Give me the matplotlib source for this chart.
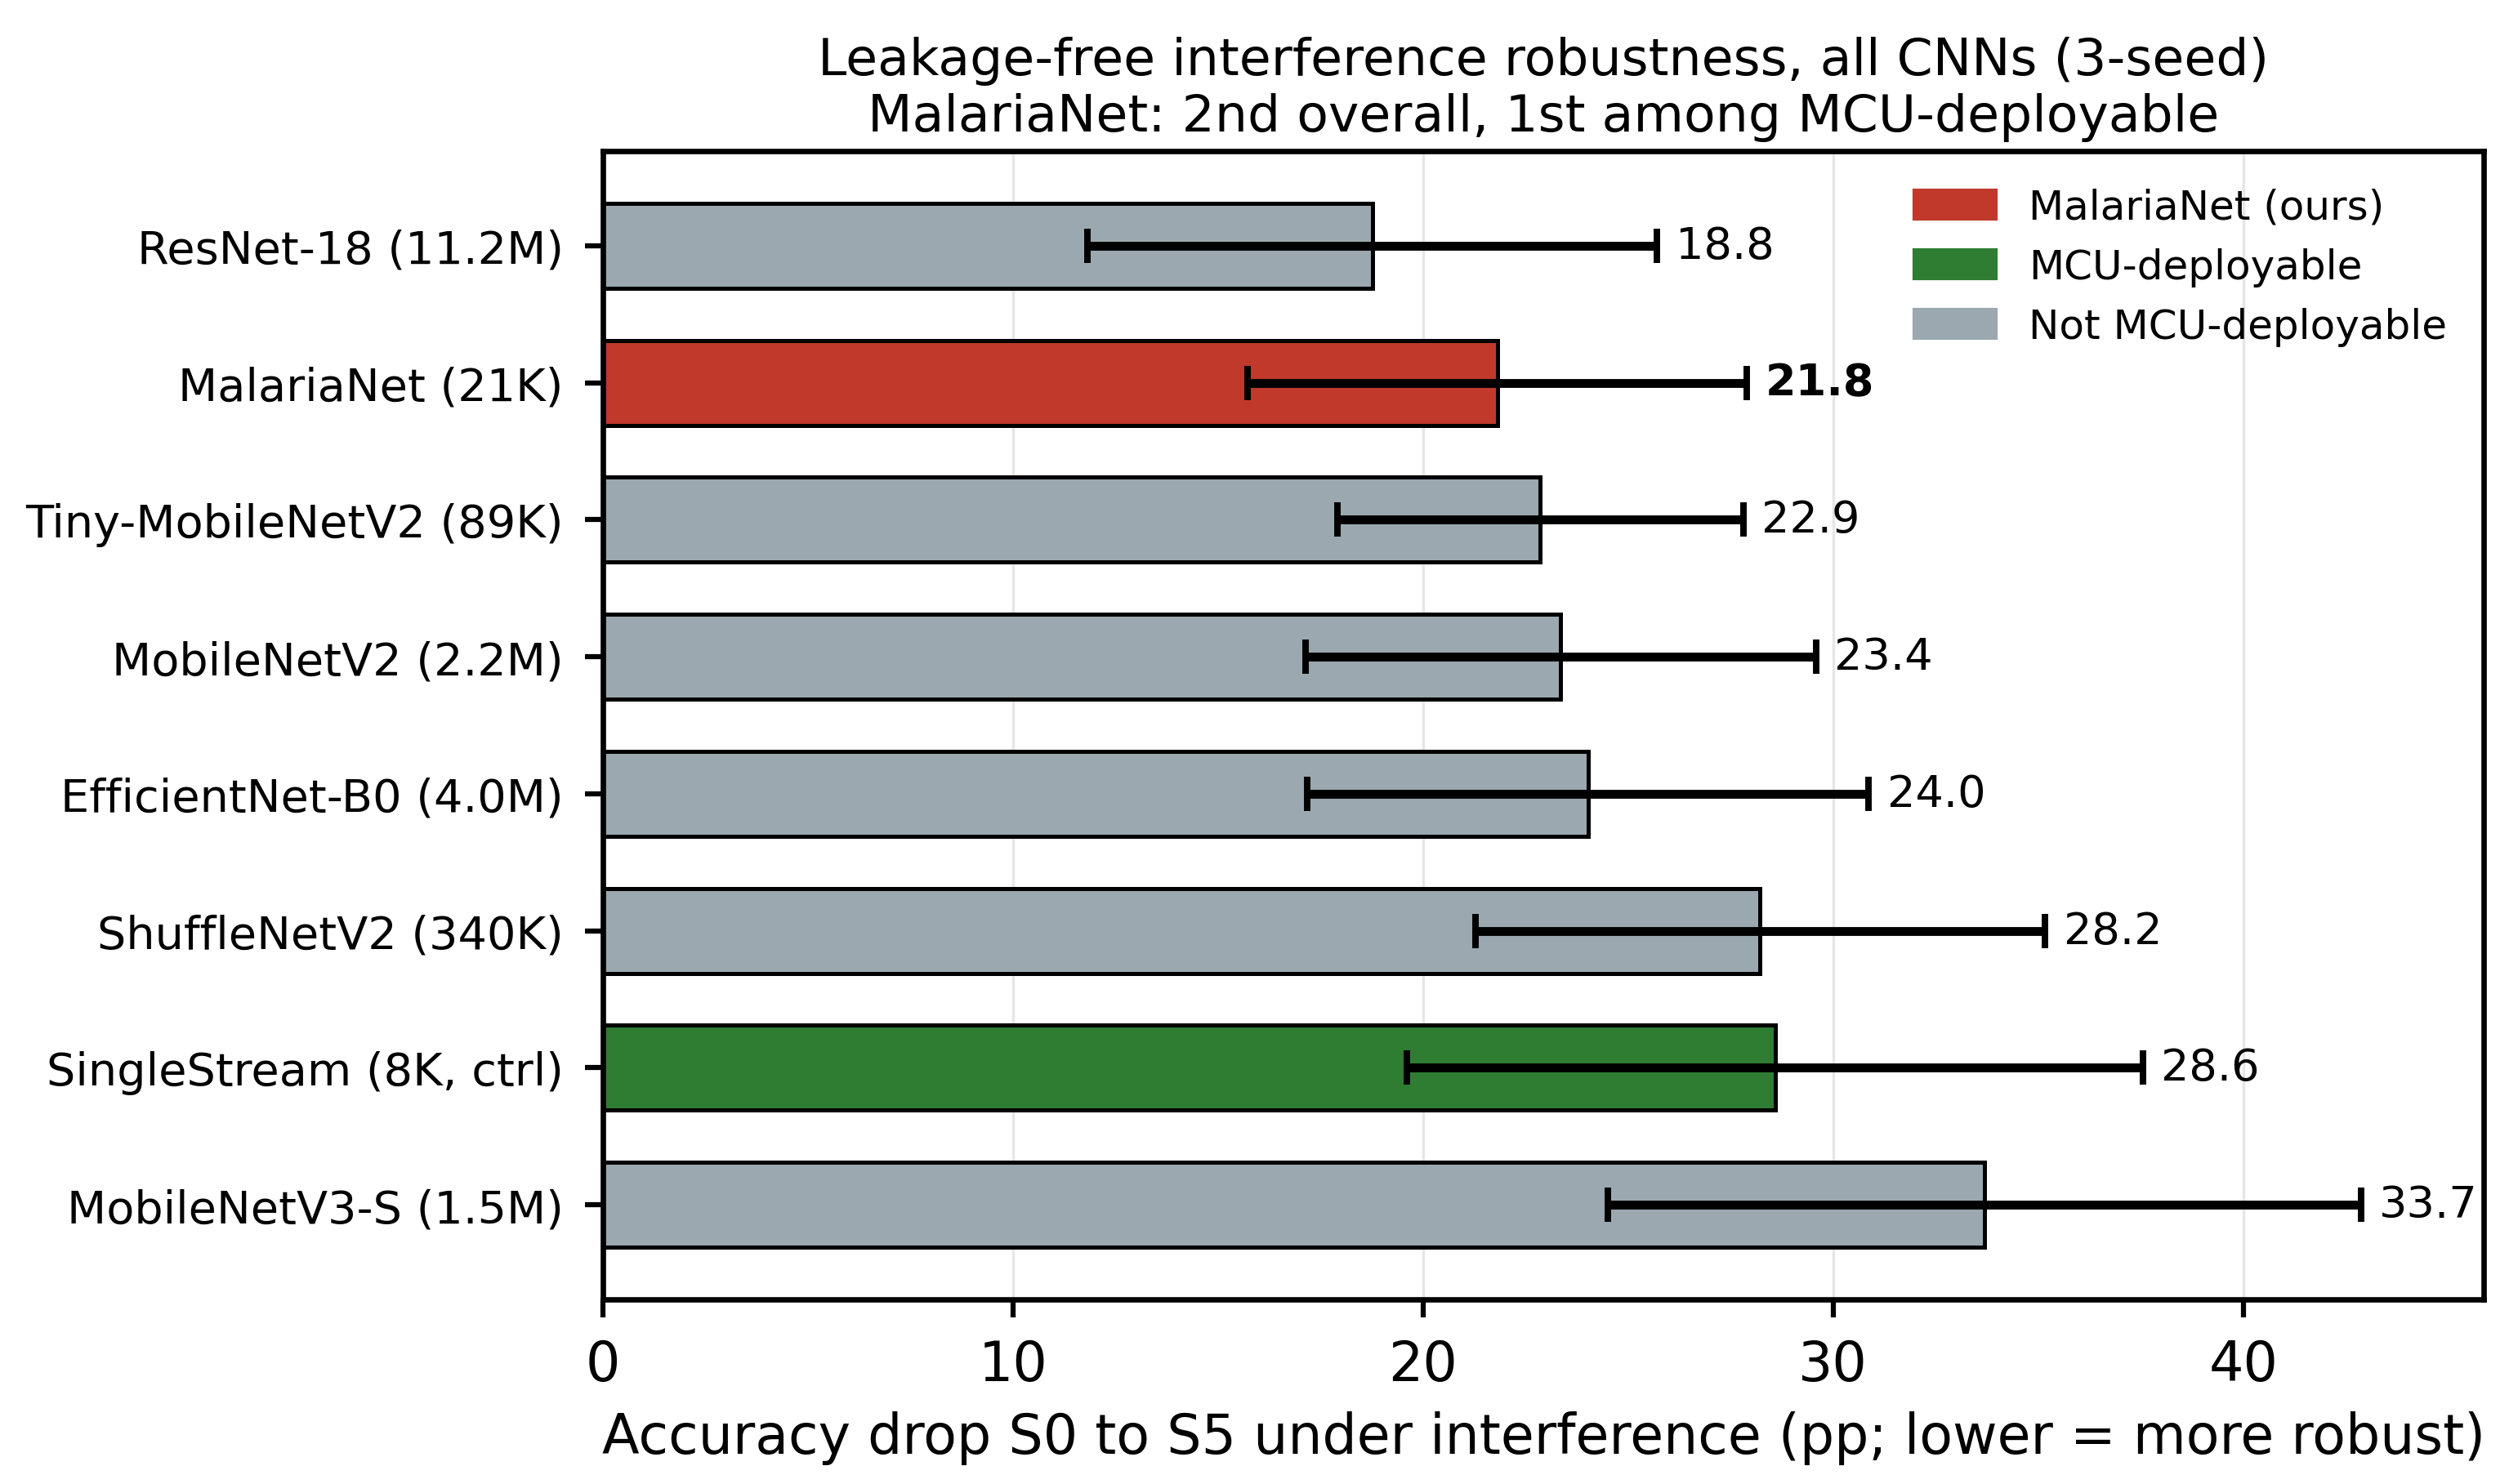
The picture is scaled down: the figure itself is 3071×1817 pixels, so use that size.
import matplotlib.pyplot as plt
import numpy as np

models = [
    "ResNet-18 (11.2M)",
    "MalariaNet (21K)",
    "Tiny-MobileNetV2 (89K)",
    "MobileNetV2 (2.2M)",
    "EfficientNet-B0 (4.0M)",
    "ShuffleNetV2 (340K)",
    "SingleStream (8K, ctrl)",
    "MobileNetV3-S (1.5M)",
]
drop_mean = [18.76, 21.81, 22.86, 23.36, 24.02, 28.22, 28.58, 33.69]
drop_std = [6.95, 6.09, 4.95, 6.22, 6.85, 6.95, 8.97, 9.18]
group = ["not", "ours", "not", "not", "not", "not", "mcu", "not"]

colors = {"ours": "#c0392b", "mcu": "#2e7d32", "not": "#9ba8b0"}
legend_names = {
    "ours": "MalariaNet (ours)",
    "mcu": "MCU-deployable",
    "not": "Not MCU-deployable",
}

fig, ax = plt.subplots(figsize=(10.237, 6.06), dpi=300)
fig.subplots_adjust(left=0.2403, right=0.990, top=0.8977, bottom=0.1243)

y = np.arange(len(models))
ax.barh(
    y,
    drop_mean,
    height=0.62,
    color=[colors[g] for g in group],
    edgecolor="black",
    linewidth=1.2,
    zorder=2,
)
ax.errorbar(
    drop_mean,
    y,
    xerr=drop_std,
    fmt="none",
    ecolor="black",
    elinewidth=2.6,
    capsize=5,
    capthick=1.9,
    zorder=3,
)

for yi, m, s, g in zip(y, drop_mean, drop_std, group):
    ax.text(
        m + s + 0.45,
        yi,
        f"{m:.1f}",
        va="center",
        ha="left",
        fontsize=13,
        fontweight="bold" if g == "ours" else "normal",
    )

ax.set_yticks(y)
ax.set_yticklabels(models, fontsize=13.4)
ax.invert_yaxis()
ax.set_xlim(0, max(np.array(drop_mean) + np.array(drop_std)) * 1.07)
ax.tick_params(axis="x", labelsize=16, width=1.5, length=5.3, pad=6)
ax.tick_params(axis="y", width=1.5, length=5.3, pad=6.3)
ax.xaxis.grid(True, color="#e6e6e6", linewidth=0.8, zorder=0)
ax.set_axisbelow(True)
for sp in ax.spines.values():
    sp.set_linewidth(1.6)

ax.set_xlabel(
    "Accuracy drop S0 to S5 under interference (pp; lower = more robust)",
    fontsize=16,
    labelpad=5.5,
)
ax.set_title(
    "Leakage-free interference robustness, all CNNs (3-seed)\n"
    "MalariaNet: 2nd overall, 1st among MCU-deployable",
    fontsize=15.2,
)

handles = [plt.Rectangle((0, 0), 1, 1, color=colors[k]) for k in ["ours", "mcu", "not"]]
ax.legend(
    handles,
    [legend_names[k] for k in ["ours", "mcu", "not"]],
    loc="upper right",
    frameon=False,
    fontsize=12,
)

plt.savefig("out.png", dpi=300)
